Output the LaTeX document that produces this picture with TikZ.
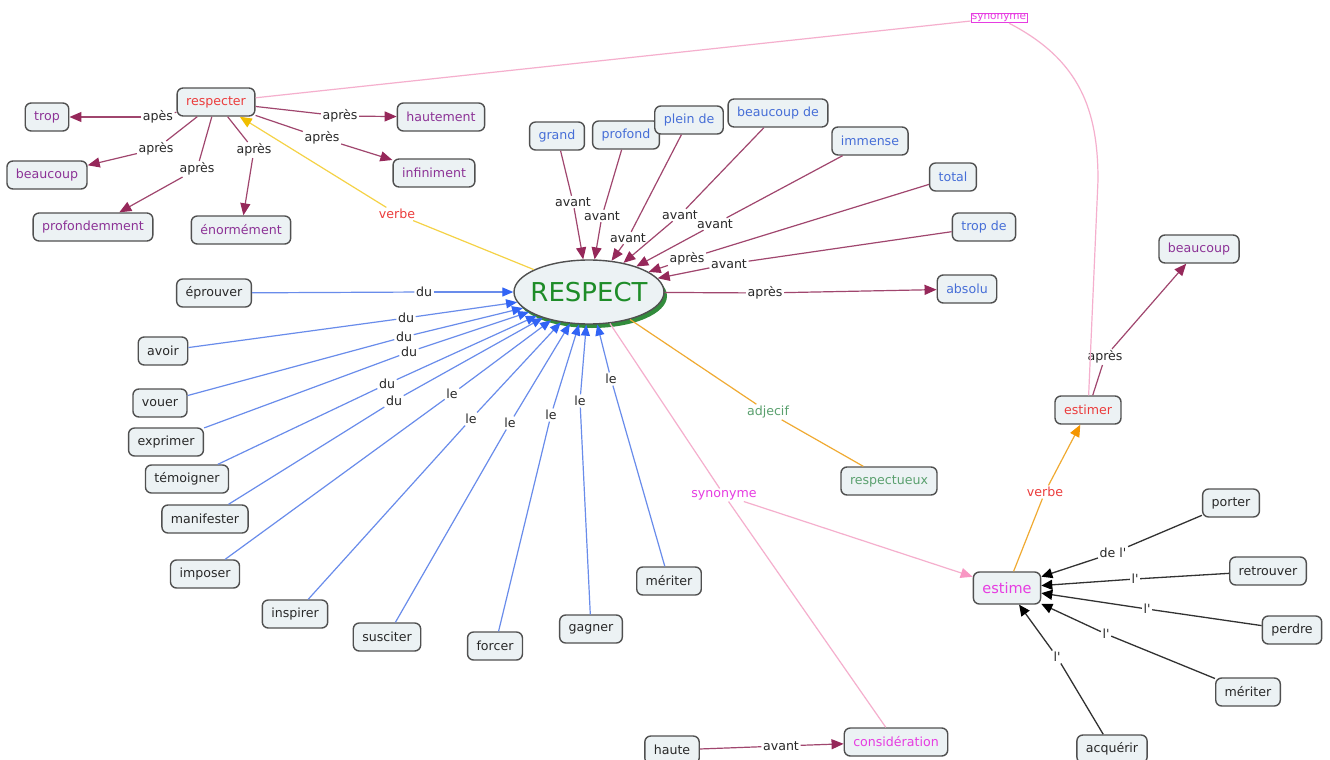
\documentclass[tikz,border=0pt]{standalone}
\usepackage{fontspec}
\setmainfont{DejaVu Sans}[Ligatures=TeXOff]
\usetikzlibrary{arrows.meta,shapes.geometric,shadows}
\definecolor{boxfill}{RGB}{236,242,244}
\definecolor{boxdraw}{RGB}{80,80,80}
\definecolor{maroon}{RGB}{160,70,110}
\definecolor{maroonhead}{RGB}{150,40,90}
\definecolor{purpletxt}{RGB}{140,50,150}
\definecolor{bluetxt}{RGB}{70,110,215}
\definecolor{blueline}{RGB}{105,140,235}
\definecolor{bluehead}{RGB}{50,100,245}
\definecolor{redtxt}{RGB}{235,60,60}
\definecolor{pinkline}{RGB}{245,175,205}
\definecolor{pinkhead}{RGB}{248,150,195}
\definecolor{magentatxt}{RGB}{230,60,225}
\definecolor{yellowline}{RGB}{245,210,70}
\definecolor{yellowhead}{RGB}{240,190,0}
\definecolor{orangeline}{RGB}{240,170,50}
\definecolor{orangehead}{RGB}{245,150,0}
\definecolor{greentxt}{RGB}{90,160,110}
\definecolor{bigreen}{RGB}{30,140,40}
\definecolor{shadowgreen}{RGB}{50,140,60}
\definecolor{labtxt}{RGB}{40,40,40}
\definecolor{blackline}{RGB}{50,50,50}
\begin{document}
\begin{tikzpicture}[x=1pt,y=-1pt,
  box/.style={draw=boxdraw,line width=1.4pt,rounded corners=6pt,fill=boxfill,inner xsep=9pt,inner ysep=0pt,minimum height=28pt,text=labtxt,font=\fontsize{12.6}{14}\selectfont},
  pbox/.style={box,text=purpletxt},
  bbox/.style={box,text=bluetxt},
  lab/.style={fill=white,inner sep=1.5pt,text=labtxt,font=\fontsize{12.6}{14}\selectfont},
  mline/.style={draw=maroon,line width=1.2pt},
  marr/.style={mline,-{Triangle[length=12pt,width=10pt,color=maroonhead]}},
  bline/.style={draw=blueline,line width=1.2pt},
  barr/.style={bline,-{Triangle[length=11pt,width=9pt,color=bluehead]}},
  kline/.style={draw=blackline,line width=1.3pt},
  karr/.style={kline,-{Triangle[length=11pt,width=10pt,color=black]}},
  pline/.style={draw=pinkline,line width=1.2pt},
  parr/.style={pline,-{Triangle[length=12pt,width=10pt,color=pinkhead]}},
  yline/.style={draw=yellowline,line width=1.2pt},
  yarr/.style={yline,-{Triangle[length=12pt,width=10pt,color=yellowhead]}},
  oline/.style={draw=orangeline,line width=1.2pt},
  oarr/.style={oline,-{Triangle[length=12pt,width=10pt,color=orangehead]}}
]
\useasboundingbox[fill=white] (0,0) rectangle (1330,760);

% ---------- boxes ----------
\node[box,text=redtxt] (respecter) at (216,102) {respecter};
\node[pbox] (trop) at (47,117) {trop};
\node[pbox] (beaucoupL) at (47,175) {beaucoup};
\node[pbox] (profondemment) at (93,227) {profondemment};
\node[pbox] (enorm) at (241,230) {énormément};
\node[pbox] (hautement) at (441,117) {hautement};
\node[pbox] (infiniment) at (434,173) {infiniment};

\node[bbox] (grand) at (557,136) {grand};
\node[bbox] (profond) at (626,135) {profond};
\node[bbox] (plein) at (689,120) {plein de};
\node[bbox] (bcpde) at (778,113) {beaucoup de};
\node[bbox] (immense) at (870,141) {immense};
\node[bbox] (total) at (953,177) {total};
\node[bbox] (tropde) at (984,227) {trop de};
\node[bbox] (absolu) at (967,289) {absolu};

\node[ellipse,draw=boxdraw,line width=1.4pt,fill=boxfill,minimum width=150pt,minimum height=64pt,inner xsep=-6pt,inner ysep=0pt,
  drop shadow={shadow xshift=3pt,shadow yshift=-4pt,fill=shadowgreen,opacity=1},
  text=bigreen,font=\fontsize{26}{30}\selectfont] (R) at (589,292) {RESPECT};

\node[box] (eprouver) at (214,293) {éprouver};
\node[box] (avoir) at (163,351) {avoir};
\node[box] (vouer) at (160,403) {vouer};
\node[box] (exprimer) at (166,442) {exprimer};
\node[box] (temoigner) at (187,479) {témoigner};
\node[box] (manifester) at (205,519) {manifester};
\node[box] (imposer) at (205,574) {imposer};
\node[box] (inspirer) at (295,614) {inspirer};
\node[box] (susciter) at (387,637) {susciter};
\node[box] (forcer) at (495,646) {forcer};
\node[box] (gagner) at (591,629) {gagner};
\node[box] (meriter) at (669,581) {mériter};

\node[box,text=greentxt] (respectueux) at (889,481) {respectueux};
\node[box,text=magentatxt,font=\fontsize{14.5}{16}\selectfont,minimum height=32pt] (estime) at (1007,588) {estime};
\node[box,text=redtxt] (estimer) at (1088,410) {estimer};
\node[pbox] (beaucoupR) at (1199,249) {beaucoup};
\node[box] (porter) at (1231,503) {porter};
\node[box] (retrouver) at (1268,571) {retrouver};
\node[box] (perdre) at (1292,630) {perdre};
\node[box] (meriterR) at (1248,692) {mériter};
\node[box] (acquerir) at (1112,749) {acquérir};
\node[box] (haute) at (672,750) {haute};
\node[box,text=magentatxt] (consideration) at (896,742) {considération};

% ---------- link labels ----------
\node[lab] (l1) at (158,117) {apès};
\node[lab] (l2) at (156,149) {après};
\node[lab] (l3) at (197,169) {après};
\node[lab] (l4) at (254,150) {après};
\node[lab] (l5) at (340,116) {après};
\node[lab] (l6) at (322,138) {après};
\node[lab,text=redtxt] (verbe1) at (397,214) {verbe};
\node[draw=magentatxt,line width=0.8pt,fill=white,inner sep=0.8pt,text=magentatxt,font=\fontsize{10.5}{12}\selectfont] (synT) at (999,18) {synonyme};

\node[lab] (a1) at (573,202) {avant};
\node[lab] (a2) at (602,216) {avant};
\node[lab] (a3) at (628,238) {avant};
\node[lab] (a4) at (680,215) {avant};
\node[lab] (a5) at (715,224) {avant};
\node[lab] (a6) at (687,259) {après};
\node[lab] (a7) at (729,264) {avant};
\node[lab] (a8) at (765,293) {après};

\node[lab] (du1) at (424,292) {du};
\node[lab] (du2) at (406,318) {du};
\node[lab] (du3) at (404,337) {du};
\node[lab] (du4) at (409,352) {du};
\node[lab] (du5) at (387,384) {du};
\node[lab] (du6) at (394,401) {du};
\node[lab] (le1) at (452,394) {le};
\node[lab] (le2) at (471,419) {le};
\node[lab] (le3) at (510,423) {le};
\node[lab] (le4) at (551,415) {le};
\node[lab] (le5) at (580,401) {le};
\node[lab] (le6) at (611,379) {le};

\node[lab,text=greentxt] (adj) at (768,412) {adjecif};
\node[lab,text=magentatxt] (synM) at (724,495) {synonyme};
\node[lab,text=redtxt] (verbe2) at (1045,492) {verbe};
\node[lab] (apR) at (1105,357) {après};
\node[lab] (e1) at (1113,553) {de l'};
\node[lab] (e2) at (1135,579) {l'};
\node[lab] (e3) at (1147,609) {l'};
\node[lab] (e4) at (1106,634) {l'};
\node[lab] (e5) at (1057,657) {l'};
\node[lab] (av) at (781,746) {avant};

% ---------- connectors ----------
\draw[mline] (respecter) -- (l1); \draw[marr] (l1) -- (trop);
\draw[mline] (respecter) -- (l2); \draw[marr] (l2) -- (beaucoupL);
\draw[mline] (respecter) -- (l3); \draw[marr] (l3) -- (profondemment);
\draw[mline] (respecter) -- (l4); \draw[marr] (l4) -- (enorm);
\draw[mline] (respecter) -- (l5); \draw[marr] (l5) -- (hautement);
\draw[mline] (respecter) -- (l6); \draw[marr] (l6) -- (infiniment);

\draw[yline] (R) -- (verbe1); \draw[yarr] (verbe1) -- (respecter);

\draw[pline] (respecter) -- (synT);
\draw[pline] (synT) .. controls (1080,60) and (1098,110) .. (1098,180) -- (estimer);

\draw[mline] (grand) -- (a1); \draw[marr] (a1) -- (R);
\draw[mline] (profond) -- (a2); \draw[marr] (a2) -- (R);
\draw[mline] (plein) -- (a3); \draw[marr] (a3) -- (R);
\draw[mline] (bcpde) -- (a4); \draw[marr] (a4) -- (R);
\draw[mline] (immense) -- (a5); \draw[marr] (a5) -- (R);
\draw[mline] (total) -- (a6); \draw[marr] (a6) -- (R);
\draw[mline] (tropde) -- (a7); \draw[marr] (a7) -- (R);
\draw[mline] (R) -- (a8); \draw[marr] (a8) -- (absolu);

\draw[bline] (eprouver) -- (du1); \draw[barr] (du1) -- (R);
\draw[bline] (avoir) -- (du2); \draw[barr] (du2) -- (R);
\draw[bline] (vouer) -- (du3); \draw[barr] (du3) -- (R);
\draw[bline] (exprimer) -- (du4); \draw[barr] (du4) -- (R);
\draw[bline] (temoigner) -- (du5); \draw[barr] (du5) -- (R);
\draw[bline] (manifester) -- (du6); \draw[barr] (du6) -- (R);
\draw[bline] (imposer) -- (le1); \draw[barr] (le1) -- (R);
\draw[bline] (inspirer) -- (le2); \draw[barr] (le2) -- (R);
\draw[bline] (susciter) -- (le3); \draw[barr] (le3) -- (R);
\draw[bline] (forcer) -- (le4); \draw[barr] (le4) -- (R);
\draw[bline] (gagner) -- (le5); \draw[barr] (le5) -- (R);
\draw[bline] (meriter) -- (le6); \draw[barr] (le6) -- (R);

\draw[oline] (R) -- (adj); \draw[oline] (adj) -- (respectueux);

\draw[pline] (R) -- (synM);
\draw[parr] (synM) -- (estime);
\draw[pline] (synM) -- (consideration);

\draw[oline] (estime) -- (verbe2); \draw[oarr] (verbe2) -- (estimer);
\draw[mline] (estimer) -- (apR); \draw[marr] (apR) -- (beaucoupR);

\draw[kline] (porter) -- (e1); \draw[karr] (e1) -- (estime);
\draw[kline] (retrouver) -- (e2); \draw[karr] (e2) -- (estime);
\draw[kline] (perdre) -- (e3); \draw[karr] (e3) -- (estime);
\draw[kline] (meriterR) -- (e4); \draw[karr] (e4) -- (estime);
\draw[kline] (acquerir) -- (e5); \draw[karr] (e5) -- (estime);

\draw[mline] (haute) -- (av); \draw[marr] (av) -- (consideration);
\end{tikzpicture}
\end{document}
